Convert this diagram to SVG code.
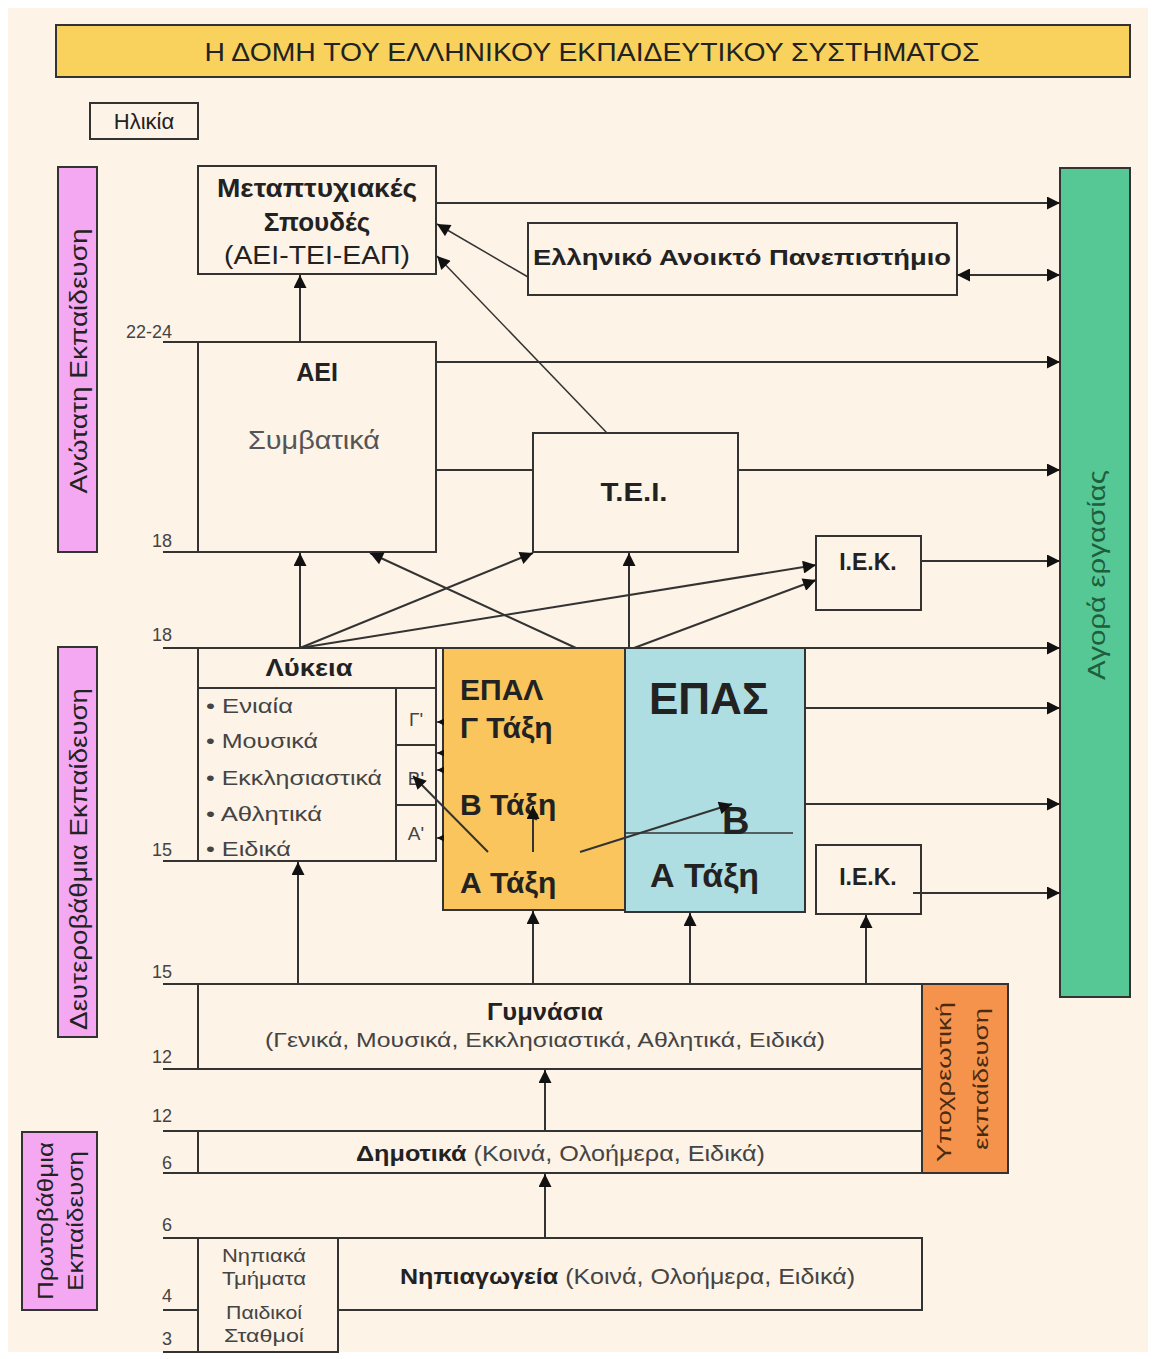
<svg xmlns="http://www.w3.org/2000/svg" width="1155" height="1359" viewBox="0 0 1155 1359">
<style>
text{font-family:"Liberation Sans",Arial,sans-serif;fill:#222}
.box{fill:#fdf3e7;stroke:#333;stroke-width:2}
.ln{stroke:#333;stroke-width:2;fill:none}
.thin{stroke:#333;stroke-width:1.5;fill:none}
.b{font-weight:bold}
.age{font-size:18px;fill:#444;text-anchor:end}
.c{text-anchor:middle}
.pink{fill:#f4a8f2;stroke:#333;stroke-width:2}
.bul{font-size:21px;fill:#444}
</style>
<defs>
<marker id="ah" viewBox="0 0 10 10" refX="10" refY="5" markerWidth="16" markerHeight="13" markerUnits="userSpaceOnUse" orient="auto-start-reverse"><path d="M0,0 L10,5 L0,10 z" fill="#111"/></marker>
<marker id="sm" viewBox="0 0 10 10" refX="10" refY="5" markerWidth="7" markerHeight="7" markerUnits="userSpaceOnUse" orient="auto"><path d="M0,0 L10,5 L0,10 z" fill="#111"/></marker>
</defs>
<rect x="0" y="0" width="1155" height="1359" fill="#ffffff"/>
<rect x="8" y="8" width="1140" height="1344" fill="#fdf3e7"/>

<g id="title">
<rect x="56" y="25" width="1074" height="52" fill="#f8d25c" stroke="#333" stroke-width="2"/>
<text x="592" y="61" font-size="25" class="c" textLength="775" lengthAdjust="spacingAndGlyphs">Η ΔΟΜΗ ΤΟΥ ΕΛΛΗΝΙΚΟΥ ΕΚΠΑΙΔΕΥΤΙΚΟΥ ΣΥΣΤΗΜΑΤΟΣ</text>
</g>
<g id="ilikia">
<rect x="90" y="103" width="108" height="36" class="box"/>
<text x="144" y="129" font-size="22" class="c">Ηλικία</text>
</g>

<g id="anotati">
<rect x="58" y="167" width="39" height="385" class="pink"/>
<text transform="translate(87,361) rotate(-90)" font-size="23" class="c" textLength="265" lengthAdjust="spacingAndGlyphs">Ανώτατη Εκπαίδευση</text>
</g>
<g id="defterovathmia">
<rect x="58" y="647" width="39" height="390" class="pink"/>
<text transform="translate(87,859) rotate(-90)" font-size="23" class="c" textLength="342" lengthAdjust="spacingAndGlyphs">Δευτεροβάθμια Εκπαίδευση</text>
</g>
<g id="protovathmia">
<rect x="22" y="1132" width="75" height="178" class="pink"/>
<text transform="translate(53,1221) rotate(-90)" font-size="22" class="c" textLength="158" lengthAdjust="spacingAndGlyphs">Πρωτοβάθμια</text>
<text transform="translate(83,1221) rotate(-90)" font-size="22" class="c" textLength="140" lengthAdjust="spacingAndGlyphs">Εκπαίδευση</text>
</g>

<g id="agora">
<rect x="1060" y="168" width="70" height="829" fill="#55c896" stroke="#333" stroke-width="2"/>
<text transform="translate(1105,575) rotate(-90)" font-size="24" class="c" style="fill:#1f5e3c" textLength="210" lengthAdjust="spacingAndGlyphs">Αγορά εργασίας</text>
</g>

<g id="metaptyxiakes">
<rect x="198" y="166" width="238" height="108" class="box"/>
<text x="317" y="197" font-size="26" class="c b" textLength="200" lengthAdjust="spacingAndGlyphs">Μεταπτυχιακές</text>
<text x="317" y="231" font-size="26" class="c b">Σπουδές</text>
<text x="317" y="264" font-size="26" class="c" textLength="186" lengthAdjust="spacingAndGlyphs">(ΑΕΙ-ΤΕΙ-ΕΑΠ)</text>
</g>
<g id="eap">
<rect x="528" y="223" width="429" height="72" class="box"/>
<text x="742" y="265" font-size="22" class="c b" textLength="418" lengthAdjust="spacingAndGlyphs">Ελληνικό Ανοικτό Πανεπιστήμιο</text>
</g>
<g id="aei">
<rect x="198" y="342" width="238" height="210" class="box"/>
<text x="317" y="381" font-size="25" class="c b">ΑΕΙ</text>
<text x="314" y="449" font-size="26" class="c" style="fill:#555" textLength="132" lengthAdjust="spacingAndGlyphs">Συμβατικά</text>
</g>
<g id="tei">
<rect x="533" y="433" width="205" height="119" class="box"/>
<text x="634" y="501" font-size="26" class="c b" textLength="67" lengthAdjust="spacingAndGlyphs">Τ.Ε.Ι.</text>
</g>
<g id="iek1">
<rect x="816" y="536" width="105" height="74" class="box"/>
<text x="868" y="570" font-size="23" class="c b">Ι.Ε.Κ.</text>
</g>
<g id="iek2">
<rect x="816" y="845" width="105" height="69" class="box"/>
<text x="868" y="885" font-size="23" class="c b">Ι.Ε.Κ.</text>
</g>

<g id="lykeia">
<rect x="198" y="648" width="238" height="213" class="box"/>
<line x1="198" y1="688" x2="436" y2="688" class="ln"/>
<line x1="396" y1="688" x2="396" y2="861" class="ln"/>
<line x1="396" y1="745" x2="436" y2="745" class="ln"/>
<line x1="396" y1="805" x2="436" y2="805" class="ln"/>
<text x="309" y="676" font-size="23" class="c b" textLength="87" lengthAdjust="spacingAndGlyphs">Λύκεια</text>
<text x="206" y="713" class="bul" textLength="87" lengthAdjust="spacingAndGlyphs">• Ενιαία</text>
<text x="206" y="748" class="bul" textLength="112" lengthAdjust="spacingAndGlyphs">• Μουσικά</text>
<text x="206" y="785" class="bul" textLength="176" lengthAdjust="spacingAndGlyphs">• Εκκλησιαστικά</text>
<text x="206" y="821" class="bul" textLength="116" lengthAdjust="spacingAndGlyphs">• Αθλητικά</text>
<text x="206" y="856" class="bul" textLength="85" lengthAdjust="spacingAndGlyphs">• Ειδικά</text>
<text x="416" y="726" font-size="19" class="c" style="fill:#444">Γ'</text>
<text x="416" y="785" font-size="19" class="c" style="fill:#444">Β'</text>
<text x="416" y="840" font-size="19" class="c" style="fill:#444">Α'</text>
</g>

<g id="epal">
<rect x="443" y="648" width="182" height="262" fill="#f9c55c" stroke="#333" stroke-width="2"/>
<text x="460" y="700" font-size="30" class="b">ΕΠΑΛ</text>
<text x="460" y="738" font-size="30" class="b">Γ Τάξη</text>
<text x="460" y="815" font-size="30" class="b">Β Τάξη</text>
<text x="460" y="893" font-size="30" class="b">Α Τάξη</text>
</g>
<g id="epas">
<rect x="625" y="648" width="180" height="264" fill="#aedde2" stroke="#333" stroke-width="2"/>
<text x="649" y="714" font-size="44" class="b">ΕΠΑΣ</text>
<line x1="625" y1="833" x2="793" y2="833" class="thin"/>
<text x="722" y="834" font-size="38" class="b">Β</text>
<text x="650" y="887" font-size="34" class="b">Α Τάξη</text>
</g>

<g id="gymnasia">
<rect x="198" y="984" width="724" height="85" class="box"/>
<text x="545" y="1020" font-size="23" class="c b" textLength="116" lengthAdjust="spacingAndGlyphs">Γυμνάσια</text>
<text x="545" y="1047" font-size="21" class="c" style="fill:#444" textLength="560" lengthAdjust="spacingAndGlyphs">(Γενικά, Μουσικά, Εκκλησιαστικά, Αθλητικά, Ειδικά)</text>
</g>
<g id="ypoxreotiki">
<rect x="922" y="984" width="86" height="189" fill="#f5934c" stroke="#333" stroke-width="2"/>
<text transform="translate(951,1082) rotate(-90)" font-size="21" class="c" style="fill:#4a2a10" textLength="160" lengthAdjust="spacingAndGlyphs">Υποχρεωτική</text>
<text transform="translate(988,1079) rotate(-90)" font-size="21" class="c" style="fill:#4a2a10" textLength="142" lengthAdjust="spacingAndGlyphs">εκπαίδευση</text>
</g>
<g id="dimotika">
<rect x="198" y="1131" width="724" height="42" class="box"/>
<text x="356" y="1161" font-size="22" style="fill:#444" textLength="409" lengthAdjust="spacingAndGlyphs"><tspan class="b" style="fill:#222">Δημοτικά</tspan> (Κοινά, Ολοήμερα, Ειδικά)</text>
</g>
<g id="nipiagogeia">
<rect x="338" y="1238" width="584" height="72" class="box"/>
<text x="400" y="1284" font-size="22" style="fill:#444" textLength="455" lengthAdjust="spacingAndGlyphs"><tspan class="b" style="fill:#222">Νηπιαγωγεία</tspan> (Κοινά, Ολοήμερα, Ειδικά)</text>
</g>
<g id="nipiaka">
<rect x="198" y="1238" width="140" height="114" class="box"/>
<text x="264" y="1262" font-size="19" class="c" style="fill:#444" textLength="84" lengthAdjust="spacingAndGlyphs">Νηπιακά</text>
<text x="264" y="1285" font-size="19" class="c" style="fill:#444" textLength="84" lengthAdjust="spacingAndGlyphs">Τμήματα</text>
<text x="264" y="1319" font-size="19" class="c" style="fill:#444" textLength="76" lengthAdjust="spacingAndGlyphs">Παιδικοί</text>
<text x="264" y="1342" font-size="19" class="c" style="fill:#444" textLength="80" lengthAdjust="spacingAndGlyphs">Σταθμοί</text>
</g>

<g id="ages">
<text x="172" y="338" class="age">22-24</text>
<text x="172" y="547" class="age">18</text>
<text x="172" y="641" class="age">18</text>
<text x="172" y="856" class="age">15</text>
<text x="172" y="978" class="age">15</text>
<text x="172" y="1063" class="age">12</text>
<text x="172" y="1122" class="age">12</text>
<text x="172" y="1169" class="age">6</text>
<text x="172" y="1231" class="age">6</text>
<text x="172" y="1302" class="age">4</text>
<text x="172" y="1345" class="age">3</text>
</g>

<g id="connectors">
<path class="ln" d="M163,342 H198 M163,552 H198 M163,648 H443 M163,861 H198 M163,984 H198 M163,1069 H198 M163,1131 H198 M163,1173 H198 M163,1238 H198 M163,1310 H198 M163,1352 H198"/>
<line x1="436" y1="203" x2="1060" y2="203" class="ln" marker-end="url(#ah)"/>
<line x1="957" y1="275" x2="1060" y2="275" class="ln" marker-start="url(#ah)" marker-end="url(#ah)"/>
<line x1="436" y1="362" x2="1060" y2="362" class="ln" marker-end="url(#ah)"/>
<line x1="436" y1="470" x2="533" y2="470" class="ln"/>
<line x1="738" y1="470" x2="1060" y2="470" class="ln" marker-end="url(#ah)"/>
<line x1="921" y1="561" x2="1060" y2="561" class="ln" marker-end="url(#ah)"/>
<line x1="805" y1="648" x2="1060" y2="648" class="ln" marker-end="url(#ah)"/>
<line x1="805" y1="708" x2="1060" y2="708" class="ln" marker-end="url(#ah)"/>
<line x1="805" y1="804" x2="1060" y2="804" class="ln" marker-end="url(#ah)"/>
<line x1="913" y1="893" x2="1060" y2="893" class="ln" marker-end="url(#ah)"/>
<line x1="300" y1="342" x2="300" y2="275" class="ln" marker-end="url(#ah)"/>
<line x1="528" y1="277" x2="437" y2="224" class="thin" marker-end="url(#ah)"/>
<line x1="607" y1="433" x2="437" y2="256" class="thin" marker-end="url(#ah)"/>
<line x1="300" y1="648" x2="300" y2="553" class="ln" marker-end="url(#ah)"/>
<line x1="300" y1="648" x2="533" y2="553" class="ln" marker-end="url(#ah)"/>
<line x1="300" y1="648" x2="816" y2="565" class="ln" marker-end="url(#ah)"/>
<line x1="576" y1="648" x2="370" y2="553" class="ln" marker-end="url(#ah)"/>
<line x1="629" y1="648" x2="629" y2="553" class="ln" marker-end="url(#ah)"/>
<line x1="634" y1="648" x2="816" y2="580" class="ln" marker-end="url(#ah)"/>
<line x1="488" y1="852" x2="413" y2="776" class="ln" marker-end="url(#ah)"/>
<line x1="533" y1="852" x2="533" y2="806" class="ln" marker-end="url(#ah)"/>
<line x1="580" y1="852" x2="732" y2="804" class="ln" marker-end="url(#ah)"/>
<line x1="443" y1="722" x2="437" y2="722" class="thin" marker-end="url(#sm)"/>
<line x1="443" y1="753" x2="437" y2="753" class="thin" marker-end="url(#sm)"/>
<line x1="443" y1="770" x2="437" y2="770" class="thin" marker-end="url(#sm)"/>
<line x1="443" y1="838" x2="437" y2="838" class="thin" marker-end="url(#sm)"/>
<line x1="298" y1="984" x2="298" y2="862" class="ln" marker-end="url(#ah)"/>
<line x1="533" y1="984" x2="533" y2="911" class="ln" marker-end="url(#ah)"/>
<line x1="690" y1="984" x2="690" y2="913" class="ln" marker-end="url(#ah)"/>
<line x1="866" y1="984" x2="866" y2="915" class="ln" marker-end="url(#ah)"/>
<line x1="545" y1="1131" x2="545" y2="1070" class="ln" marker-end="url(#ah)"/>
<line x1="545" y1="1238" x2="545" y2="1174" class="ln" marker-end="url(#ah)"/>
</g>
</svg>
